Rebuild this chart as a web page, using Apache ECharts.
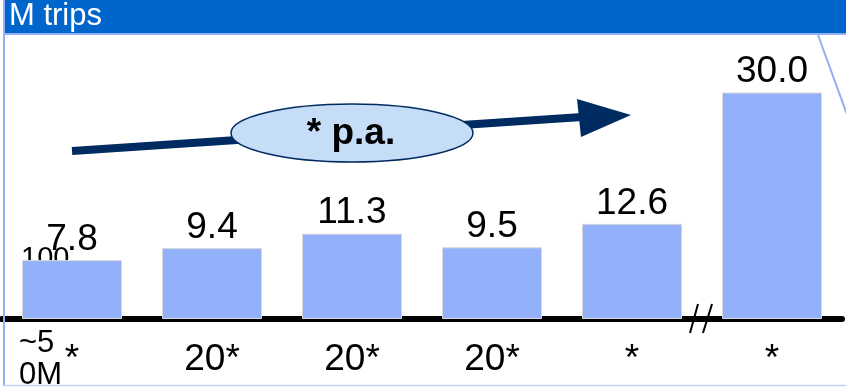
<!DOCTYPE html>
<html>
<head>
<meta charset="utf-8">
<script src="https://cdn.jsdelivr.net/npm/echarts@6/dist/echarts.min.js"></script>
<style>
  html, body { margin: 0; padding: 0; background: #fff; }
  #chart { width: 846px; height: 387px; }
</style>
</head>
<body>
<div id="chart"></div>
<script>
// Trips per period (millions)
const categories = ['*', '20*', '20*', '20*', '*', '*'];
const trips = [7.8, 9.4, 11.3, 9.5, 12.6, 30.0];
const headerTitle = 'M trips';
const growthNote = '* p.a.';

const FONT = '"Liberation Sans", Arial, sans-serif';
const NAVY = '#002b60';
const BAR = '#93b0fb';
const FRAME = '#93aff6';

const chart = echarts.init(document.getElementById('chart'), null, { renderer: 'canvas' });

chart.setOption({
  animation: false,
  backgroundColor: '#ffffff',
  grid: { left: 2, right: 4, top: 17, bottom: 68, containLabel: false },
  xAxis: {
    type: 'category',
    data: categories,
    axisTick: { show: false },
    axisLine: { show: true, lineStyle: { color: '#000', width: 6, cap: 'round' } },
    axisLabel: { color: '#000', fontSize: 37, fontFamily: FONT, margin: 22, interval: 0 }
  },
  yAxis: {
    type: 'value',
    min: 0,
    max: 40,
    show: false,
    splitLine: { show: false }
  },
  series: [{
    type: 'bar',
    data: trips,
    barWidth: 100,
    z: 3,
    itemStyle: { color: BAR, borderColor: '#d8d8d8', borderWidth: 1 },
    label: {
      show: true,
      position: 'top',
      distance: 2,
      color: '#000',
      fontSize: 37,
      fontFamily: FONT,
      formatter: p => p.value.toFixed(1)
    }
  }],
  graphic: [
    // header band
    { type: 'rect', shape: { x: 4, y: 0, width: 842, height: 33 }, style: { fill: '#0066cc' }, z: 10 },
    { type: 'line', shape: { x1: 4, y1: 34, x2: 846, y2: 34 }, style: { stroke: FRAME, lineWidth: 2 }, z: 10 },
    { type: 'text', x: 9, y: 1, z: 11,
      style: { text: headerTitle, fill: '#fff', fontSize: 31, fontFamily: FONT } },
    // frame lines
    { type: 'line', shape: { x1: 4, y1: 0, x2: 4, y2: 386 }, style: { stroke: FRAME, lineWidth: 2 }, z: 10 },
    { type: 'line', shape: { x1: 4, y1: 385.5, x2: 846, y2: 385.5 }, style: { stroke: '#c3d2f8', lineWidth: 1.5 }, z: 10 },
    { type: 'line', shape: { x1: 818, y1: 35, x2: 849, y2: 120 }, style: { stroke: FRAME, lineWidth: 2 }, z: 10 },
    // partial caption behind first bar
    { type: 'text', x: 21, y: 244, z: 0,
      style: { text: '100', fill: '#000', fontSize: 29, fontFamily: FONT } },
    // first category prefix
    { type: 'text', x: 19, y: 327, z: 5,
      style: { text: '~5\n0M', fill: '#000', fontSize: 31, fontFamily: FONT, lineHeight: 32 } },
    // axis break marks
    { type: 'line', shape: { x1: 698, y1: 304, x2: 690, y2: 333 }, style: { stroke: '#000', lineWidth: 2 }, z: 12 },
    { type: 'line', shape: { x1: 712, y1: 304, x2: 703, y2: 333 }, style: { stroke: '#000', lineWidth: 2 }, z: 12 },
    // growth arrow
    { type: 'line', shape: { x1: 72, y1: 151, x2: 582, y2: 117 }, style: { stroke: NAVY, lineWidth: 8 }, z: 6 },
    { type: 'polygon', shape: { points: [[577, 99], [631, 115], [581, 137]] }, style: { fill: NAVY }, z: 6 },
    { type: 'ellipse', shape: { cx: 352, cy: 133, rx: 121, ry: 29 },
      style: { fill: '#c6ddf8', stroke: NAVY, lineWidth: 1.5 }, z: 7 },
    { type: 'text', x: 351, y: 134, z: 8,
      style: { text: growthNote, fill: '#000', fontSize: 37, fontWeight: 'bold', fontFamily: FONT,
               align: 'center', verticalAlign: 'middle' } }
  ]
});
</script>
</body>
</html>
